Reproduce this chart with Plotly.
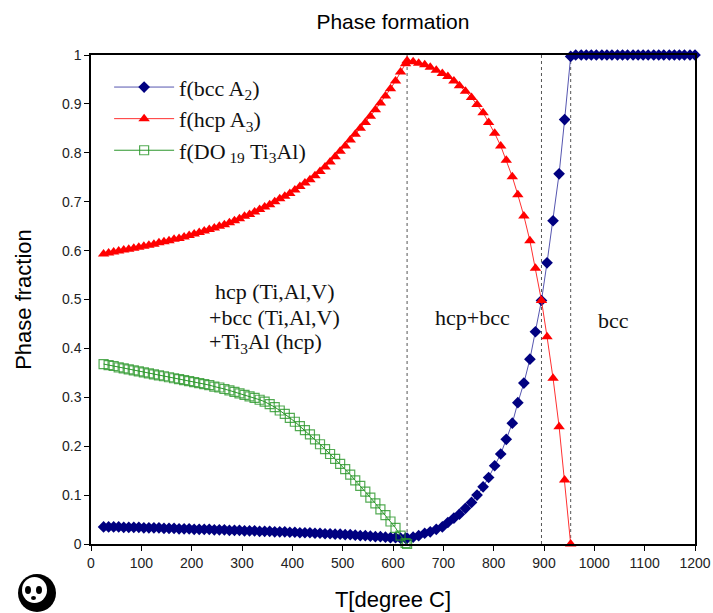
import plotly.graph_objects as go

# ---------------- data ----------------
T_low = [25, 35, 45, 55, 65, 75, 85, 95, 105, 115,
         125, 135, 145, 155, 165, 175, 185, 195, 205, 215,
         225, 235, 245, 255, 265, 275, 285, 295, 305, 315,
         325, 335, 345, 355, 365, 375, 385, 395, 405, 415,
         425, 435, 445, 455, 465, 475, 485, 495, 505, 515,
         525, 535, 545, 555, 565, 575, 585, 595, 605, 615,
         625, 628]
T_mid = [640, 651, 663, 674, 686, 698, 709, 721, 732, 744,
         756, 767, 779, 790, 802, 814, 825, 837, 848, 860,
         872, 883, 895, 906, 918, 930, 941, 953]
T_high = [963, 974, 984, 994, 1004, 1015, 1025, 1035, 1046, 1056,
          1066, 1077, 1087, 1097, 1107, 1118, 1128, 1138, 1149, 1159,
          1169, 1179, 1190, 1200]

hcp_low = [0.593, 0.595, 0.597, 0.599, 0.601, 0.603, 0.605, 0.607, 0.609, 0.611,
           0.613, 0.616, 0.618, 0.620, 0.623, 0.625, 0.628, 0.631, 0.634, 0.637,
           0.640, 0.643, 0.646, 0.650, 0.653, 0.657, 0.661, 0.665, 0.670, 0.674,
           0.679, 0.684, 0.689, 0.694, 0.700, 0.706, 0.711, 0.717, 0.724, 0.731,
           0.738, 0.745, 0.753, 0.762, 0.771, 0.781, 0.792, 0.803, 0.814, 0.826,
           0.838, 0.850, 0.862, 0.875, 0.888, 0.902, 0.916, 0.931, 0.947, 0.965,
           0.982, 0.988]
hcp_mid = [0.986, 0.983, 0.980, 0.975, 0.969, 0.962, 0.956, 0.947, 0.937, 0.926,
           0.913, 0.899, 0.882, 0.862, 0.840, 0.814, 0.785, 0.751, 0.714, 0.671,
           0.620, 0.564, 0.498, 0.424, 0.339, 0.240, 0.131, 0.0]

bcc_low = [0.035, 0.035, 0.035, 0.035, 0.034, 0.034, 0.034, 0.034, 0.033, 0.033,
           0.033, 0.033, 0.032, 0.032, 0.032, 0.031, 0.031, 0.031, 0.030, 0.030,
           0.030, 0.030, 0.029, 0.029, 0.029, 0.028, 0.028, 0.028, 0.027, 0.027,
           0.027, 0.026, 0.026, 0.026, 0.025, 0.025, 0.025, 0.024, 0.024, 0.023,
           0.023, 0.023, 0.022, 0.022, 0.021, 0.021, 0.020, 0.020, 0.019, 0.019,
           0.018, 0.017, 0.017, 0.016, 0.015, 0.015, 0.014, 0.013, 0.013, 0.012,
           0.012, 0.012]
bcc_mid = [0.014, 0.017, 0.022, 0.025, 0.030, 0.035, 0.044, 0.053, 0.061, 0.073,
           0.085, 0.100, 0.117, 0.136, 0.160, 0.184, 0.214, 0.247, 0.289, 0.329,
           0.378, 0.434, 0.498, 0.575, 0.661, 0.757, 0.868, 0.997]
bcc_high = [1.0, 1.0, 1.0, 1.0, 1.0, 1.0, 1.0, 1.0, 1.0, 1.0,
            1.0, 1.0, 1.0, 1.0, 1.0, 1.0, 1.0, 1.0, 1.0, 1.0,
            1.0, 1.0, 1.0, 1.0]

do19_low = [0.368, 0.366, 0.364, 0.361, 0.359, 0.357, 0.355, 0.353, 0.351, 0.349,
            0.347, 0.345, 0.343, 0.341, 0.339, 0.337, 0.335, 0.333, 0.331, 0.329,
            0.327, 0.325, 0.322, 0.320, 0.317, 0.314, 0.311, 0.308, 0.305, 0.302,
            0.299, 0.295, 0.291, 0.286, 0.280, 0.273, 0.266, 0.258, 0.250, 0.241,
            0.233, 0.224, 0.214, 0.204, 0.194, 0.184, 0.174, 0.164, 0.153, 0.142,
            0.130, 0.119, 0.107, 0.095, 0.083, 0.071, 0.059, 0.046, 0.033, 0.017,
            0.002, 0.0]

boundaries = [628, 895, 953]

series_names = ["f(bcc A<sub>2</sub>)", "f(hcp A<sub>3</sub>)",
                "f(DO<sub> 19</sub> Ti<sub>3</sub>Al)"]

x_ticks = [0, 100, 200, 300, 400, 500, 600, 700, 800, 900, 1000, 1100, 1200]
y_ticks = [0, 0.1, 0.2, 0.3, 0.4, 0.5, 0.6, 0.7, 0.8, 0.9, 1]
y_tick_text = ["0", "0.1", "0.2", "0.3", "0.4", "0.5", "0.6", "0.7", "0.8", "0.9", "1"]

region_labels = [
    ("hcp (Ti,Al,V)", 242, 0.516, "left"),
    ("+bcc (Ti,Al,V)", 230, 0.464, "left"),
    ("+Ti<sub>3</sub>Al (hcp)", 230, 0.412, "left"),
    ("hcp+bcc", 758, 0.464, "center"),
    ("bcc", 1039, 0.458, "center"),
]

# ---------------- figure ----------------
serif = "Liberation Serif, Times New Roman, serif"
sans = "Liberation Sans, Arial, sans-serif"

fig = go.Figure()

fig.add_trace(go.Scatter(
    x=T_low + T_mid + T_high, y=bcc_low + bcc_mid + bcc_high,
    name=series_names[0], mode="lines+markers",
    line=dict(color="#5656b0", width=1),
    marker=dict(symbol="diamond", size=9, color="#000080",
                line=dict(color="#000080", width=0)),
    cliponaxis=False,
))
fig.add_trace(go.Scatter(
    x=T_low + T_mid, y=hcp_low + hcp_mid,
    name=series_names[1], mode="lines+markers",
    line=dict(color="#ff3030", width=1),
    marker=dict(symbol="triangle-up", size=10, color="#ff0000",
                line=dict(color="#ff0000", width=0)),
    cliponaxis=False,
))
fig.add_trace(go.Scatter(
    x=T_low, y=do19_low,
    name=series_names[2], mode="lines+markers",
    line=dict(color="#2a962a", width=1),
    marker=dict(symbol="square", size=9, color="rgba(255,255,255,0)",
                line=dict(color="rgba(40,150,40,0.8)", width=1.2)),
    cliponaxis=False,
))

for b in boundaries:
    fig.add_shape(type="line", x0=b, x1=b, y0=0, y1=1, xref="x", yref="y",
                  line=dict(color="#555555", width=1, dash="dot"), layer="below")

for txt, xv, yv, anc in region_labels:
    fig.add_annotation(x=xv, y=yv, xref="x", yref="y", text=txt,
                       showarrow=False, xanchor=anc, yanchor="middle",
                       font=dict(family=serif, size=22, color="#111111"))

# panda logo (decorative)
def px_x(p):
    return (p - 91) / 604.0

def px_y(p):
    return (544 - p) / 489.0

fig.add_shape(type="circle", xref="paper", yref="paper",
              x0=px_x(18), x1=px_x(56), y0=px_y(612), y1=px_y(574),
              fillcolor="black", line=dict(color="black", width=0))
fig.add_shape(type="circle", xref="paper", yref="paper",
              x0=px_x(22), x1=px_x(47), y0=px_y(603), y1=px_y(577),
              fillcolor="white", line=dict(color="white", width=0))
for ex in (28, 39):
    fig.add_shape(type="circle", xref="paper", yref="paper",
                  x0=px_x(ex - 3), x1=px_x(ex + 3), y0=px_y(594), y1=px_y(586),
                  fillcolor="black", line=dict(color="black", width=0))
fig.add_shape(type="circle", xref="paper", yref="paper",
              x0=px_x(31), x1=px_x(36), y0=px_y(600), y1=px_y(596),
              fillcolor="black", line=dict(color="black", width=0))

fig.update_layout(
    width=713, height=613,
    margin=dict(l=91, r=18, t=55, b=69, autoexpand=False),
    paper_bgcolor="white", plot_bgcolor="white",
    title=dict(text="Phase formation", x=0.551, xanchor="center",
               y=1 - 22 / 613, yanchor="middle",
               font=dict(family=sans, size=21, color="black")),
    showlegend=True,
    legend=dict(x=0.03, y=0.977, xanchor="left", yanchor="top",
                bgcolor="rgba(0,0,0,0)", borderwidth=0,
                itemwidth=60,
                font=dict(family=serif, size=22, color="#111111"),
                tracegroupgap=0),
    font=dict(family=sans, color="black"),
)

fig.update_xaxes(
    range=[0, 1200], tickvals=x_ticks, ticks="outside", ticklen=5,
    tickwidth=1, tickcolor="black", automargin=False,
    showline=True, linecolor="black", linewidth=1.5, mirror=True,
    showgrid=False, zeroline=False,
    tickfont=dict(family=sans, size=14, color="#222222"),
    title=dict(text="T[degree C]", font=dict(family=sans, size=22, color="black"),
               standoff=22),
)
fig.update_yaxes(
    range=[0, 1], tickvals=y_ticks, ticktext=y_tick_text, ticks="outside",
    ticklen=5, tickwidth=1, tickcolor="black", automargin=False,
    showline=True, linecolor="black", linewidth=1.5, mirror=True,
    showgrid=False, zeroline=False,
    tickfont=dict(family=sans, size=14, color="#222222"),
    title=dict(text="Phase fraction", font=dict(family=sans, size=22, color="black"),
               standoff=24),
)

fig.write_html("out.html")
